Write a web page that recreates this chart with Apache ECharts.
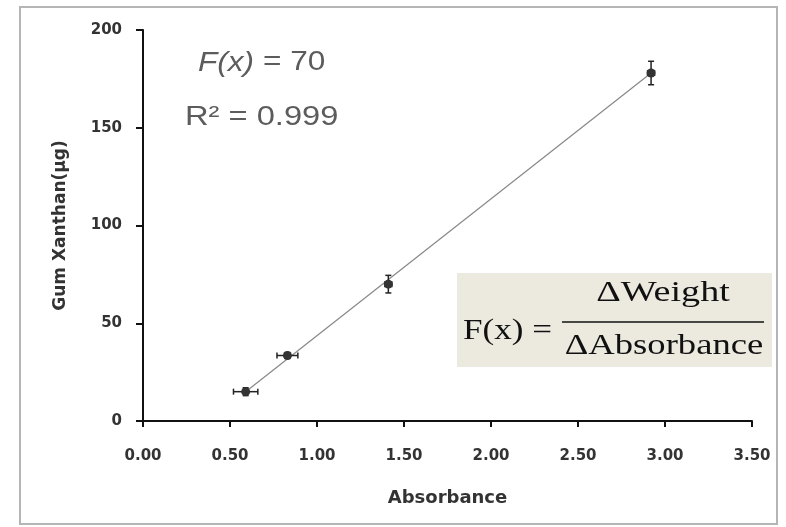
<!DOCTYPE html>
<html><head><meta charset="utf-8">
<script src="https://cdn.jsdelivr.net/npm/echarts@6/dist/echarts.min.js"></script>
<style>html,body{margin:0;padding:0;background:#fff}#c{width:786px;height:527px}</style>
</head><body><div id="c"></div>
<script>
// Data
const absorbance = [0.59, 0.83, 1.41, 2.92];
const gumXanthan = [15, 33.5, 70, 178];
const absErr = [0.07, 0.06, 0.02, 0.02];
const gumErr = [2, 1.5, 4.5, 6];
const trendX = [0.59, 2.92];
const trendY = [15, 178];
const xTicks = ['0.00','0.50','1.00','1.50','2.00','2.50','3.00','3.50'];
const yTicks = [0, 50, 100, 150, 200];

const points = absorbance.map((x, i) => [x, gumXanthan[i], absErr[i], gumErr[i]]);
const trend = trendX.map((x, i) => [x, trendY[i]]);

const chart = echarts.init(document.getElementById('c'), null, {renderer: 'canvas'});
const labelFont = {fontFamily: 'DejaVu Sans', fontWeight: 'bold', fontSize: 15, color: '#333'};

chart.setOption({
  animation: false,
  backgroundColor: '#fff',
  grid: {left: 143, right: 34, top: 30, bottom: 106},
  xAxis: {
    type: 'value', min: 0, max: 3.5, interval: 0.5,
    name: 'Absorbance', nameLocation: 'middle', nameGap: 68,
    nameTextStyle: Object.assign({}, labelFont, {fontSize: 18}),
    axisLine: {onZero: false, lineStyle: {color: '#111', width: 2}},
    axisTick: {show: true, length: 6, lineStyle: {color: '#111', width: 2}},
    axisLabel: Object.assign({}, labelFont, {margin: 28, formatter: v => xTicks[Math.round(v / 0.5)]}),
    splitLine: {show: false}
  },
  yAxis: {
    type: 'value', min: 0, max: 200, interval: 50,
    name: 'Gum Xanthan(μg)', nameLocation: 'middle', nameGap: 74, nameRotate: 90,
    nameTextStyle: Object.assign({}, labelFont, {fontSize: 17}),
    axisLine: {show: true, lineStyle: {color: '#111', width: 2}},
    axisTick: {show: true, length: 7, lineStyle: {color: '#111', width: 2}},
    axisLabel: Object.assign({}, labelFont, {margin: 21, formatter: v => yTicks.includes(v) ? String(v) : ''}),
    splitLine: {show: false}
  },
  series: [
    {
      type: 'line', data: trend, symbol: 'none',
      lineStyle: {color: '#888', width: 1.2}, z: 1
    },
    {
      type: 'custom', data: points, z: 3,
      renderItem: function (params, api) {
        const x = api.value(0), y = api.value(1), ex = api.value(2), ey = api.value(3);
        const c = api.coord([x, y]);
        const l = api.coord([x - ex, y]), r = api.coord([x + ex, y]);
        const t = api.coord([x, y + ey]), b = api.coord([x, y - ey]);
        const st = {stroke: '#222', lineWidth: 1.5};
        const cap = 3;
        return {
          type: 'group',
          children: [
            {type: 'line', shape: {x1: l[0], y1: l[1], x2: r[0], y2: r[1]}, style: st},
            {type: 'line', shape: {x1: l[0], y1: l[1] - cap, x2: l[0], y2: l[1] + cap}, style: st},
            {type: 'line', shape: {x1: r[0], y1: r[1] - cap, x2: r[0], y2: r[1] + cap}, style: st},
            {type: 'line', shape: {x1: t[0], y1: t[1], x2: b[0], y2: b[1]}, style: st},
            {type: 'line', shape: {x1: t[0] - cap, y1: t[1], x2: t[0] + cap, y2: t[1]}, style: st},
            {type: 'line', shape: {x1: b[0] - cap, y1: b[1], x2: b[0] + cap, y2: b[1]}, style: st},
            {type: 'circle', shape: {cx: c[0], cy: c[1], r: 4.5}, style: {fill: '#333'}}
          ]
        };
      }
    }
  ],
  graphic: [
    {type: 'rect', shape: {x: 20, y: 7, width: 757, height: 517}, style: {fill: 'none', stroke: '#b5b5b5', lineWidth: 2}, silent: true, z: -1},
    {type: 'text', x: 198, y: 63, scaleX: 1.17,
      style: {text: '{i|F(x)} = 70', rich: {i: {fontStyle: 'italic', fontFamily: 'Liberation Sans', fontSize: 27, fill: '#5c5c5c'}},
        fontFamily: 'Liberation Sans', fontSize: 27, fill: '#5c5c5c', verticalAlign: 'middle'}},
    {type: 'text', x: 185, y: 118, scaleX: 1.21,
      style: {text: 'R² = 0.999', fontFamily: 'Liberation Sans', fontSize: 27, fill: '#5c5c5c', verticalAlign: 'middle'}},
    {type: 'rect', shape: {x: 457, y: 273, width: 315, height: 94}, style: {fill: '#ece9df'}, z: 5},
    {type: 'text', x: 463, y: 331, scaleX: 1.17, z: 6,
      style: {text: 'F(x) =', fontFamily: 'Liberation Serif', fontSize: 30, fill: '#111', verticalAlign: 'middle'}},
    {type: 'text', x: 663, y: 293, scaleX: 1.27, z: 6,
      style: {text: 'ΔWeight', fontFamily: 'Liberation Serif', fontSize: 30, fill: '#111', align: 'center', verticalAlign: 'middle'}},
    {type: 'line', shape: {x1: 562, y1: 322, x2: 764, y2: 322}, style: {stroke: '#111', lineWidth: 1.5}, z: 6},
    {type: 'text', x: 664, y: 346, scaleX: 1.22, z: 6,
      style: {text: 'ΔAbsorbance', fontFamily: 'Liberation Serif', fontSize: 30, fill: '#111', align: 'center', verticalAlign: 'middle'}}
  ]
});
</script></body></html>
